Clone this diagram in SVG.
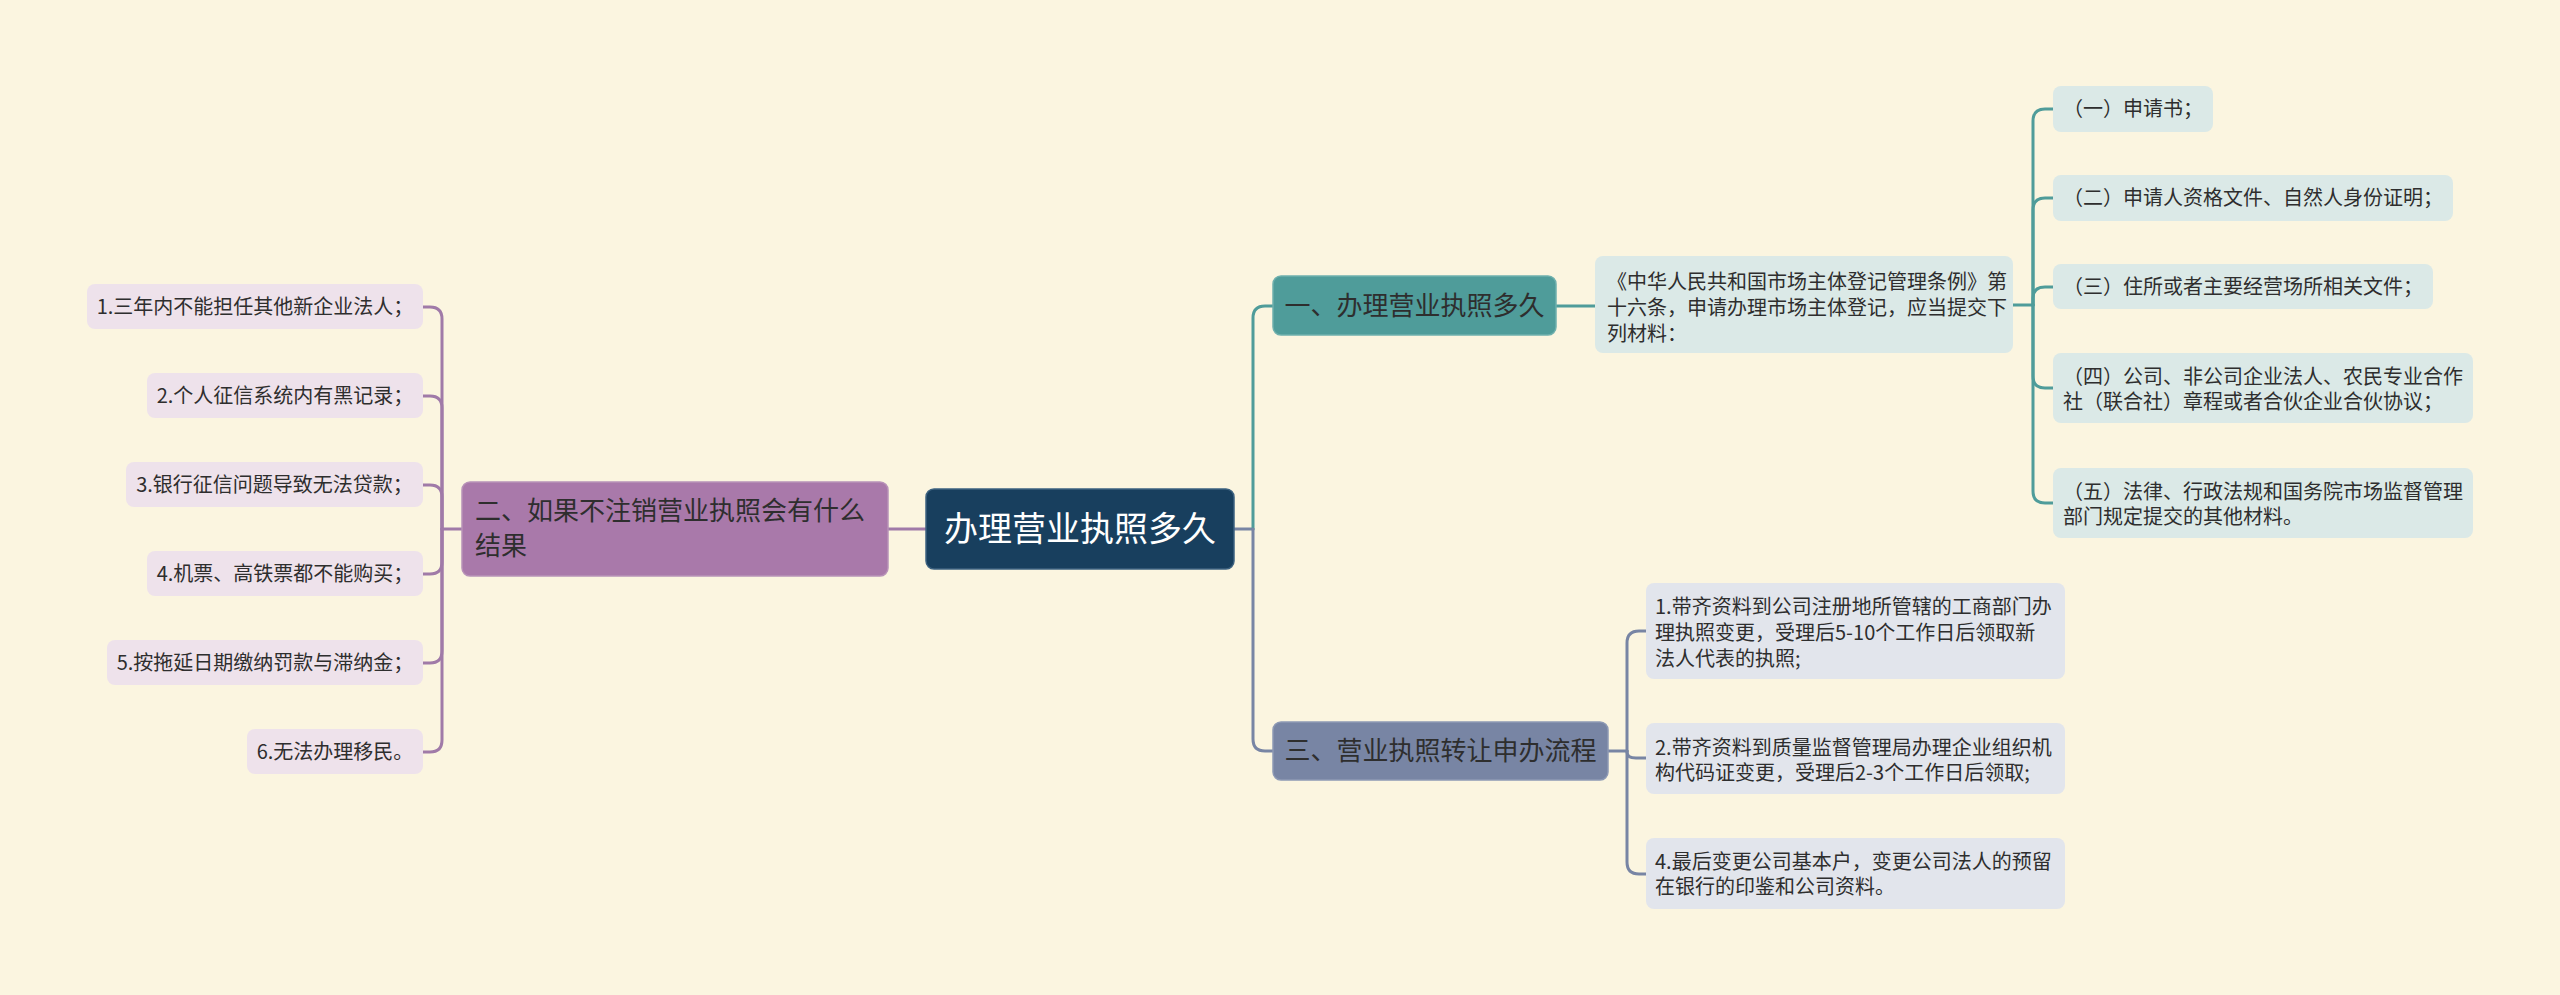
<svg xmlns="http://www.w3.org/2000/svg" width="2560" height="995" viewBox="0 0 2560 995">
<style>
text{font-family:"Noto Sans CJK SC","Noto Sans",sans-serif;fill:#2e2e2e}
.t20{font-size:20px}
.t26{font-size:26px}
.mid{text-anchor:middle}
.c{fill:none;stroke-width:3;stroke-linecap:round;stroke-linejoin:round}
.pur{stroke:#a07aa8}
.teal{stroke:#4f9c9a}
.sl{stroke:#7885a4}
.leafP{fill:#eee2eb}
.leafT{fill:#dbe9e7}
.leafS{fill:#e2e5ec}
</style>
<rect x="0" y="0" width="2560" height="995" fill="#fbf5e0"/>
<g id="connectors">
  <path class="c pur" d="M926,529 H888"/>
  <path class="c pur" d="M462,529 H442"/>
  <path class="c pur" d="M442,529 V319 Q442,307 430,307 H423"/>
  <path class="c pur" d="M442,529 V408 Q442,396 430,396 H423"/>
  <path class="c pur" d="M442,529 V497 Q442,485 430,485 H423"/>
  <path class="c pur" d="M442,529 V562 Q442,574 430,574 H423"/>
  <path class="c pur" d="M442,529 V651 Q442,663 430,663 H423"/>
  <path class="c pur" d="M442,529 V740 Q442,752 430,752 H423"/>
  <path class="c sl" d="M1234,529 H1253"/>
  <path class="c teal" d="M1253,529 V318 Q1253,306 1265,306 H1273"/>
  <path class="c sl" d="M1253,529 V739 Q1253,751 1265,751 H1273"/>
  <path class="c teal" d="M1556,306 H1595"/>
  <path class="c teal" d="M2013,305 H2033"/>
  <path class="c teal" d="M2033,305 V121 Q2033,109 2045,109 H2053"/>
  <path class="c teal" d="M2033,305 V210 Q2033,198 2045,198 H2053"/>
  <path class="c teal" d="M2033,305 V298 Q2033,287 2045,287 H2053"/>
  <path class="c teal" d="M2033,305 V376 Q2033,388 2045,388 H2053"/>
  <path class="c teal" d="M2033,305 V491 Q2033,503 2045,503 H2053"/>
  <path class="c sl" d="M1608,751 H1627"/>
  <path class="c sl" d="M1627,751 V643 Q1627,631 1639,631 H1646"/>
  <path class="c sl" d="M1627,751 V752 Q1627,758 1636,758 H1646"/>
  <path class="c sl" d="M1627,751 V862 Q1627,874 1639,874 H1646"/>
</g>
<g id="root">
  <rect x="926" y="489" width="308" height="80" rx="8" fill="#183f5e" stroke="#3d6280" stroke-width="1.5"/>
  <text x="1080" y="541" class="mid" style="font-size:34px;fill:#ffffff">办理营业执照多久</text>
</g>
<g id="n2">
  <rect x="462" y="482" width="426" height="94" rx="8" fill="#a979aa" stroke="#b892b8" stroke-width="1.5"/>
  <text x="475" y="520" class="t26">二、如果不注销营业执照会有什么</text>
  <text x="475" y="555" class="t26">结果</text>
</g>
<g id="n2-1">
  <rect x="87" y="284" width="336" height="45" rx="8" class="leafP"/>
  <text x="255" y="314" class="t20 mid">1.三年内不能担任其他新企业法人；</text>
</g>
<g id="n2-2">
  <rect x="147" y="373" width="276" height="45" rx="8" class="leafP"/>
  <text x="285" y="403" class="t20 mid">2.个人征信系统内有黑记录；</text>
</g>
<g id="n2-3">
  <rect x="126" y="462" width="297" height="45" rx="8" class="leafP"/>
  <text x="274.5" y="492" class="t20 mid">3.银行征信问题导致无法贷款；</text>
</g>
<g id="n2-4">
  <rect x="147" y="551" width="276" height="45" rx="8" class="leafP"/>
  <text x="285" y="581" class="t20 mid">4.机票、高铁票都不能购买；</text>
</g>
<g id="n2-5">
  <rect x="107" y="640" width="316" height="45" rx="8" class="leafP"/>
  <text x="265" y="670" class="t20 mid">5.按拖延日期缴纳罚款与滞纳金；</text>
</g>
<g id="n2-6">
  <rect x="247" y="729" width="176" height="45" rx="8" class="leafP"/>
  <text x="335" y="759" class="t20 mid">6.无法办理移民。</text>
</g>
<g id="n1">
  <rect x="1273" y="276" width="283" height="59" rx="8" fill="#4f9c9a" stroke="#6fb0ad" stroke-width="1.5"/>
  <text x="1414.5" y="315" class="t26 mid">一、办理营业执照多久</text>
</g>
<g id="n1-1">
  <rect x="1595" y="256" width="418" height="97" rx="8" class="leafT"/>
  <text x="1607" y="289" class="t20">《中华人民共和国市场主体登记管理条例》第</text>
  <text x="1607" y="315" class="t20">十六条，申请办理市场主体登记，应当提交下</text>
  <text x="1607" y="341" class="t20">列材料：</text>
</g>
<g id="n1-1-1">
  <rect x="2053" y="86" width="160" height="46" rx="8" class="leafT"/>
  <text x="2133" y="116" class="t20 mid">（一）申请书；</text>
</g>
<g id="n1-1-2">
  <rect x="2053" y="175" width="400" height="46" rx="8" class="leafT"/>
  <text x="2253" y="205" class="t20 mid">（二）申请人资格文件、自然人身份证明；</text>
</g>
<g id="n1-1-3">
  <rect x="2053" y="264" width="380" height="45" rx="8" class="leafT"/>
  <text x="2243" y="294" class="t20 mid">（三）住所或者主要经营场所相关文件；</text>
</g>
<g id="n1-1-4">
  <rect x="2053" y="353" width="420" height="70" rx="8" class="leafT"/>
  <text x="2063" y="384" class="t20">（四）公司、非公司企业法人、农民专业合作</text>
  <text x="2063" y="409" class="t20">社（联合社）章程或者合伙企业合伙协议；</text>
</g>
<g id="n1-1-5">
  <rect x="2053" y="468" width="420" height="70" rx="8" class="leafT"/>
  <text x="2063" y="499" class="t20">（五）法律、行政法规和国务院市场监督管理</text>
  <text x="2063" y="524" class="t20">部门规定提交的其他材料。</text>
</g>
<g id="n3">
  <rect x="1273" y="722" width="335" height="58" rx="8" fill="#7885a4" stroke="#8d99b4" stroke-width="1.5"/>
  <text x="1440.5" y="760" class="t26 mid">三、营业执照转让申办流程</text>
</g>
<g id="n3-1">
  <rect x="1646" y="583" width="419" height="96" rx="8" class="leafS"/>
  <text x="1655" y="614" class="t20">1.带齐资料到公司注册地所管辖的工商部门办</text>
  <text x="1655" y="640" class="t20">理执照变更，受理后5-10个工作日后领取新</text>
  <text x="1655" y="666" class="t20">法人代表的执照;</text>
</g>
<g id="n3-2">
  <rect x="1646" y="723" width="419" height="71" rx="8" class="leafS"/>
  <text x="1655" y="755" class="t20">2.带齐资料到质量监督管理局办理企业组织机</text>
  <text x="1655" y="780" class="t20">构代码证变更，受理后2-3个工作日后领取;</text>
</g>
<g id="n3-3">
  <rect x="1646" y="838" width="419" height="71" rx="8" class="leafS"/>
  <text x="1655" y="869" class="t20">4.最后变更公司基本户，变更公司法人的预留</text>
  <text x="1655" y="894" class="t20">在银行的印鉴和公司资料。</text>
</g>
</svg>
